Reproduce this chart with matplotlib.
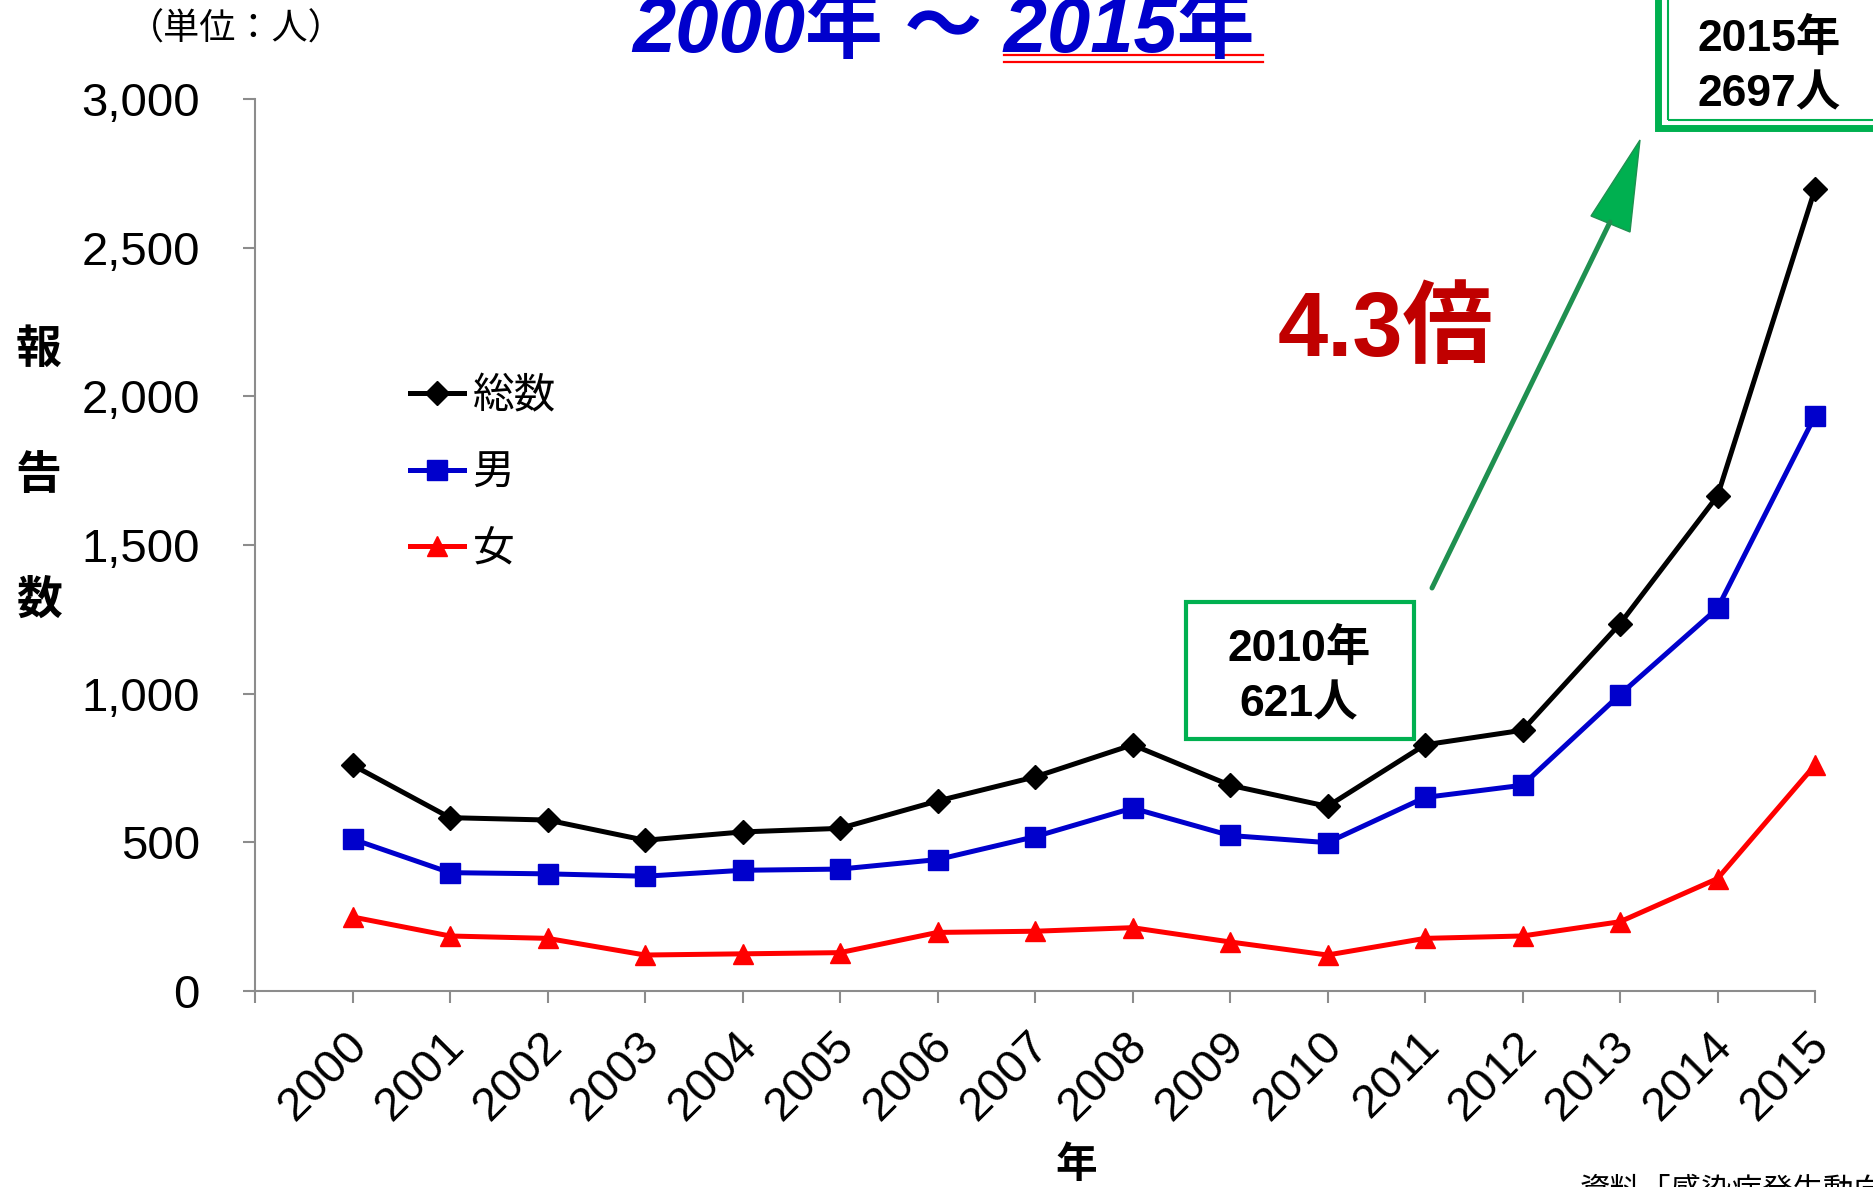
import matplotlib
matplotlib.use('Agg')
import matplotlib.pyplot as plt
import matplotlib.transforms as mtransforms
from matplotlib.patches import Rectangle, Polygon
from matplotlib.lines import Line2D
from matplotlib.ticker import FuncFormatter

W, H = 1874, 1187

# 報告数（人）
years = list(range(2000, 2016))
total = [760, 583, 575, 507, 535, 547, 639, 720, 828, 692, 621, 828, 877, 1235, 1665, 2697]
male = [511, 398, 394, 386, 406, 410, 442, 519, 615, 523, 499, 651, 692, 997, 1287, 1934]
female = [249, 185, 177, 121, 125, 129, 197, 201, 213, 165, 121, 177, 185, 233, 378, 760]
yticks = [0, 500, 1000, 1500, 2000, 2500, 3000]

JP = ['Noto Sans CJK JP', 'DejaVu Sans']
LAT = ['Liberation Sans', 'Noto Sans CJK JP']
GREEN = '#00B050'
plt.rcParams['font.family'] = LAT


def px(x, y):
    # pixel position measured from the top-left corner -> inches (dpi_scale_trans)
    return x / 100, (H - y) / 100


fig = plt.figure(figsize=(W / 100, H / 100), dpi=100)
ax = fig.add_axes([255 / W, 1 - 991 / H, (1815 - 255) / W, (991 - 99) / H])
tr = fig.dpi_scale_trans

ax.plot(years, total, color='black', lw=3.6, marker='D', ms=12, label='総数', clip_on=False, zorder=5)
ax.plot(years, male, color='#0000CC', lw=3.6, marker='s', ms=14, label='男', clip_on=False, zorder=4)
ax.plot(years, female, color='#FF0000', lw=3.6, marker='^', ms=15, label='女', clip_on=False, zorder=3)

ax.set_xlim(1999, 2015)
ax.set_ylim(0, 3000)
for s in ['top', 'right']:
    ax.spines[s].set_visible(False)
for s in ['left', 'bottom']:
    ax.spines[s].set_color('#8c8c8c')
    ax.spines[s].set_linewidth(1.5)
ax.set_yticks(yticks)
ax.yaxis.set_major_formatter(FuncFormatter(lambda v, p: f'{int(v):,}'))
ax.set_xticks([1999] + years)
ax.set_xticklabels([''] + [str(y) for y in years])
ax.tick_params(axis='both', direction='out', length=8.6, width=1.5, color='#8c8c8c',
               labelsize=34, labelcolor='black')
ax.tick_params(axis='y', pad=31)
ax.tick_params(axis='x', pad=26)
shift = mtransforms.ScaledTranslation(8 / 100, 0, tr)
for lab in ax.get_xticklabels():
    lab.set_rotation(45)
    lab.set_ha('right')
    lab.set_va('center')
    lab.set_rotation_mode('anchor')
    lab.set_transform(lab.get_transform() + shift)

ax.legend(loc='upper left', bbox_to_anchor=px(410, 376), bbox_transform=tr, frameon=False,
          prop={'family': JP, 'size': 30}, handlelength=1.3, handletextpad=0.2,
          labelspacing=0.85, borderpad=0, borderaxespad=0)

# 単位・軸ラベル
fig.text(236 / W, 1 - 30 / H, '（単位：人）', family=JP, fontsize=26, ha='center', va='center')
for ch, y in zip('報告数', [350, 476, 601]):
    fig.text(39 / W, 1 - y / H, ch, family=JP, fontsize=33, fontweight='bold', ha='center', va='center')
fig.text(1076 / W, 1 - 1165 / H, '年', family=JP, fontsize=30, fontweight='bold', ha='center', va='center')

# タイトル
fig.text(943 / W, 1 - 52 / H, '2000年 ～ 2015年', fontsize=56, fontweight='bold', fontstyle='italic',
         color='#0000CC', ha='center', va='baseline')
for yy in [55, 62]:
    x0, y0 = px(1004, yy)
    x1, y1 = px(1263, yy)
    fig.add_artist(Line2D([x0, x1], [y0, y1], color='red', lw=1.6, transform=tr))

# 2010年の囲み
fig.add_artist(Rectangle(px(1186, 739), 228 / 100, 137 / 100, transform=tr,
                         facecolor='white', edgecolor=GREEN, lw=3))
fig.text(1299 / W, 1 - 649 / H, f'{years[10]}年', fontsize=32, fontweight='bold', ha='center', va='center')
fig.text(1299 / W, 1 - 705 / H, f'{total[10]}人', fontsize=32, fontweight='bold', ha='center', va='center')

# 2015年の囲み（二重線）
fig.add_artist(Rectangle(px(1658, 128), 260 / 100, 160 / 100, transform=tr,
                         facecolor='white', edgecolor=GREEN, lw=5))
fig.add_artist(Rectangle(px(1668, 120), 250 / 100, 150 / 100, transform=tr,
                         facecolor='none', edgecolor=GREEN, lw=1.5))
fig.text(1769 / W, 1 - 39 / H, f'{years[-1]}年', fontsize=32, fontweight='bold', ha='center', va='center')
fig.text(1769 / W, 1 - 95 / H, f'{total[-1]}人', fontsize=32, fontweight='bold', ha='center', va='center')

# 矢印
sx, sy = px(1432, 588)
hx, hy = px(1610, 222)
fig.add_artist(Line2D([sx, hx], [sy, hy], color='#1f9050', lw=3.6, transform=tr, solid_capstyle='round'))
fig.add_artist(Polygon([px(1640, 140), px(1591, 216), px(1630, 232)], closed=True, transform=tr,
                       facecolor=GREEN, edgecolor='#1f9050', lw=1))

fig.text(1386 / W, 1 - 333 / H, f'{total[-1] / total[10]:.1f}倍', fontsize=65, fontweight='bold',
         color='#C00000', ha='center', va='center')

fig.text(1580 / W, 1 - 1176 / H, '資料「感染症発生動向調査」', family=JP, fontsize=22, ha='left', va='top')

fig.savefig('out.png', dpi=100)
